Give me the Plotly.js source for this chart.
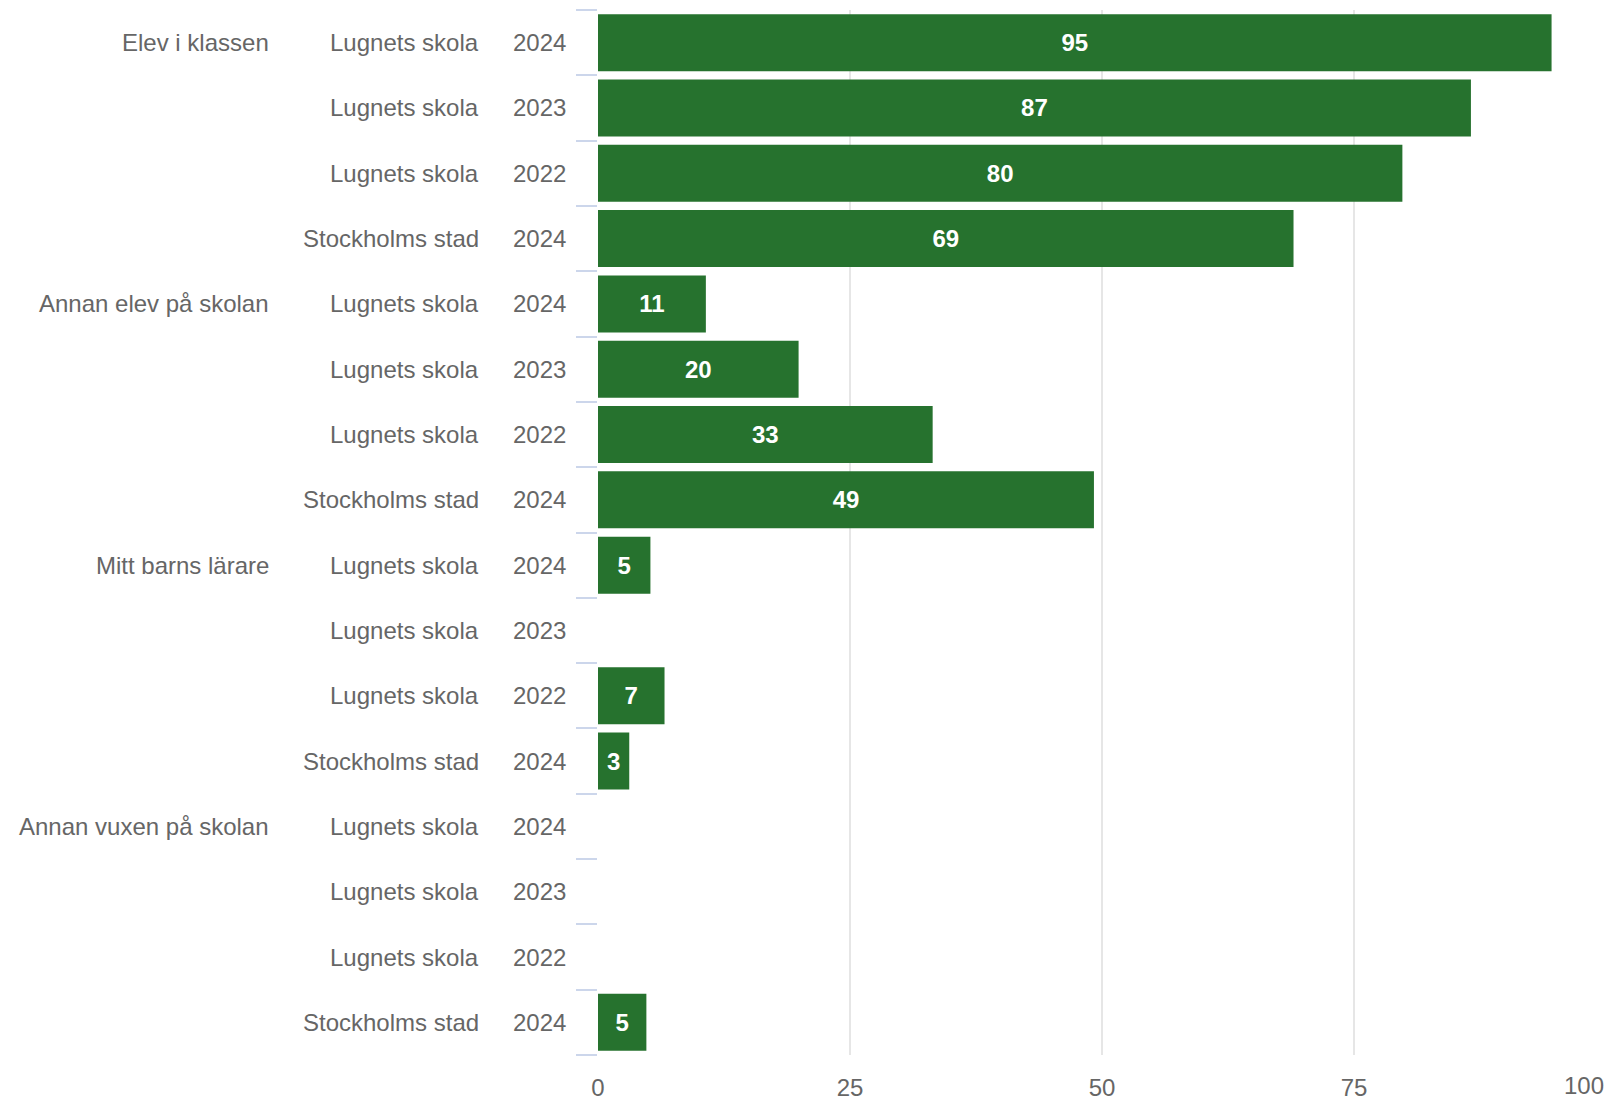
<!DOCTYPE html>
<html>
<head>
<meta charset="utf-8">
<script src="https://cdn.plot.ly/plotly-3.0.1.min.js"></script>
<style>html,body{margin:0;padding:0;background:#fff;}#chart{width:1617px;height:1100px;}</style>
</head>
<body>
<div id="chart"></div>
<script>
const groups = ['Elev i klassen', 'Annan elev på skolan', 'Mitt barns lärare', 'Annan vuxen på skolan'];
const units = ['Lugnets skola', 'Lugnets skola', 'Lugnets skola', 'Stockholms stad'];
const years = ['2024', '2023', '2022', '2024'];
const valElev = [94.6, 86.6, 79.8, 69.0];
const valAnnanElev = [10.7, 19.9, 33.2, 49.2];
const valLarare = [5.2, null, 6.6, 3.1];
const valVuxen = [null, null, null, 4.8];
const xTicks = [0, 25, 50, 75, 100];
const xTickText = ['0', '25', '50', '75', '100'];

const groupValues = [valElev, valAnnanElev, valLarare, valVuxen];

const ids = [], xs = [], annotations = [];
const labelFont = {family: 'Liberation Sans, Arial, sans-serif', size: 24, color: '#666666'};
groups.forEach((g, gi) => {
  units.forEach((u, i) => {
    const id = g + '|' + u + '|' + years[i] + '|' + i;
    ids.push(id);
    xs.push(groupValues[gi][i]);
    annotations.push({xref: 'paper', yref: 'y', x: -0.0298, y: id, text: years[i], showarrow: false,
      xanchor: 'right', yanchor: 'middle', font: labelFont});
    annotations.push({xref: 'paper', yref: 'y', x: -0.116, y: id, text: u, showarrow: false,
      xanchor: 'right', yanchor: 'middle', font: labelFont});
    if (i === 0) {
      annotations.push({xref: 'paper', yref: 'y', x: -0.3244, y: id, text: g, showarrow: false,
        xanchor: 'right', yanchor: 'middle', font: labelFont});
    }
  });
});

// last x tick label is kept inside the chart, right-aligned on its gridline
const lastTick = xTicks[xTicks.length - 1];
annotations.push({xref: 'x', yref: 'paper', x: lastTick, y: -0.0295, text: xTickText[xTickText.length - 1],
  showarrow: false, xanchor: 'right', yanchor: 'middle', font: labelFont});
const shownTickText = xTickText.map((t, i) => i === xTickText.length - 1 ? '' : t);

const trace = {
  type: 'bar', orientation: 'h', y: ids, x: xs,
  marker: {color: '#26722E', line: {width: 0}},
  texttemplate: '%{x:.0f}', textposition: 'inside', insidetextanchor: 'middle', textangle: 0,
  textfont: {family: 'Liberation Sans, Arial, sans-serif', size: 24, color: '#ffffff', weight: 'bold'},
  hoverinfo: 'none'
};

const layout = {
  width: 1617, height: 1100,
  margin: {l: 598, r: 11, t: 10, b: 45, pad: 0},
  paper_bgcolor: '#ffffff', plot_bgcolor: '#ffffff',
  showlegend: false, bargap: 0.127,
  xaxis: {range: [0, 100], tickmode: 'array', tickvals: xTicks, ticktext: shownTickText,
    showgrid: true, gridcolor: '#e6e6e6', gridwidth: 2,
    zeroline: false, showline: false, ticks: '', ticklabelstandoff: 16,
    tickfont: labelFont, fixedrange: true},
  yaxis: {type: 'category', autorange: 'reversed', tickmode: 'array', tickvals: ids,
    tickson: 'boundaries', ticks: 'outside', ticklen: 21, tickwidth: 2, tickcolor: '#ccd6eb',
    showgrid: false, zeroline: false, showline: false, showticklabels: false, fixedrange: true},
  annotations: annotations
};

Plotly.newPlot('chart', [trace], layout, {displayModeBar: false, staticPlot: true});
</script>
</body>
</html>
